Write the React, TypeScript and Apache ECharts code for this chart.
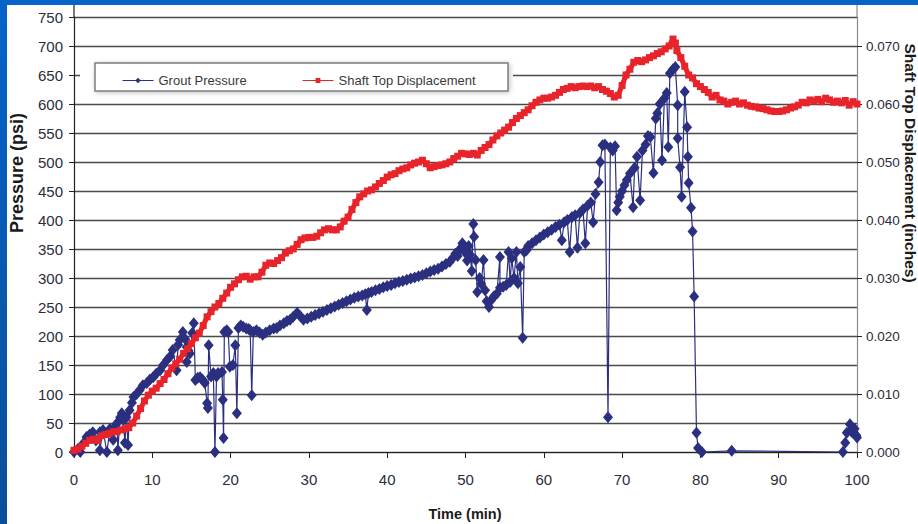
import React, { useEffect, useRef } from "react";
import * as echarts from "echarts";

const xTicks = [0, 10, 20, 30, 40, 50, 60, 70, 80, 90, 100];
const seriesNames = ["Grout Pressure", "Shaft Top Displacement"];

// Grout pressure [time (min), psi]
const groutPressure: [number, number][] = [
  [0, 0], [0.5, 5], [0.8, 0], [1.2, 15], [1.6, 26], [2, 30], [2.4, 34], [2.8, 20], [3.3, 34], [3.3, 3],
  [3.7, 38], [4.2, 0], [4.6, 40], [5, 21], [5.3, 45], [5.5, 50], [5.6, 3], [5.9, 60], [6.1, 67], [6.3, 55],
  [6.5, 16], [6.7, 60], [6.9, 12], [7.1, 72], [7.4, 85], [7.6, 95], [8, 100], [8.4, 107], [8.8, 115], [9.3, 119],
  [9.7, 125], [10.1, 129], [10.5, 135], [11, 141], [11.4, 150], [11.9, 159], [12.3, 165], [12.6, 176], [13.1, 141], [13.3, 185],
  [13.5, 193], [13.9, 207], [14.2, 195], [14.4, 181], [14.4, 155], [14.6, 175], [14.8, 170], [15.1, 205], [15.3, 222], [15.5, 124],
  [15.8, 128], [16.1, 129], [16.4, 125], [16.7, 119], [17, 84], [17.1, 76], [17.2, 184], [17.5, 130], [17.8, 136], [18, 0],
  [18.2, 130], [18.4, 136], [18.9, 138], [19, 90], [19.1, 24], [19.2, 207], [19.5, 210], [19.7, 207], [19.9, 147], [20.3, 150],
  [20.6, 184], [20.8, 67], [21, 214], [21.3, 218], [21.6, 216], [22, 213], [22.3, 212], [22.5, 210], [22.7, 98], [22.9, 207],
  [23.3, 210], [23.7, 206], [24.1, 202], [24.5, 206], [25, 210], [25.5, 213], [25.9, 214], [26.3, 218], [26.8, 222], [27.2, 226],
  [27.6, 228], [28, 233], [28.5, 240], [28.9, 234], [29.3, 228], [29.8, 230], [30.3, 233], [30.8, 236], [31.3, 239], [31.8, 242],
  [32.3, 245], [32.8, 248], [33.3, 251], [33.8, 254], [34.3, 257], [34.8, 260], [35.3, 263], [35.8, 266], [36.3, 268], [36.8, 270],
  [37.2, 272], [37.4, 245], [37.6, 274], [38, 276], [38.5, 279], [39, 281], [39.5, 284], [40, 286], [40.5, 288], [41, 291],
  [41.5, 293], [42, 295], [42.5, 297], [43, 299], [43.5, 301], [44, 303], [44.5, 305], [45, 308], [45.5, 311], [46, 314],
  [46.5, 316], [47, 320], [47.5, 324], [48, 328], [48.4, 335], [48.7, 342], [49, 338], [49.3, 350], [49.6, 360], [49.9, 345],
  [50.2, 330], [50.4, 355], [50.6, 340], [50.8, 312], [51, 393], [51.1, 371], [51.3, 331], [51.5, 276], [51.8, 300], [52, 290],
  [52.3, 331], [52.5, 279], [52.7, 260], [53, 250], [53.3, 262], [53.6, 268], [54, 273], [54.4, 336], [54.4, 283], [54.8, 285],
  [55.2, 288], [55.5, 345], [55.7, 293], [55.9, 334], [56.2, 300], [56.5, 345], [56.7, 291], [57, 319], [57.3, 197], [57.5, 345],
  [57.8, 348], [58, 355], [58.5, 360], [59, 365], [59.5, 370], [60, 375], [60.5, 379], [61, 383], [61.5, 388], [62, 392],
  [62.3, 365], [62.6, 396], [63, 400], [63.3, 345], [63.6, 405], [64, 408], [64.3, 352], [64.6, 412], [65, 418], [65.3, 360],
  [65.6, 425], [66, 430], [66.3, 396], [66.6, 445], [67, 465], [67.2, 500], [67.5, 529], [67.8, 530], [68.2, 60], [68.5, 525],
  [68.8, 520], [69.1, 527], [69.3, 417], [69.5, 430], [69.7, 440], [70, 450], [70.3, 460], [70.6, 469], [71, 480], [71.4, 422],
  [71.6, 490], [71.9, 509], [72.3, 434], [72.6, 520], [73, 530], [73.3, 545], [73.6, 543], [74, 481], [74.3, 575], [74.5, 584],
  [74.8, 600], [75.1, 503], [75.4, 610], [75.7, 619], [75.9, 526], [76.1, 653], [76.5, 660], [76.8, 664], [77.1, 598], [77.1, 541],
  [77.4, 491], [77.6, 440], [78, 621], [78.3, 560], [78.4, 509], [78.5, 464], [78.8, 421], [79, 380], [79.2, 268], [79.5, 33],
  [79.7, 7], [80.2, 0], [84, 2], [98.2, 0], [98.5, 16], [98.7, 33], [99.1, 48], [99.3, 35], [99.5, 33], [99.7, 40],
  [99.9, 29], [100, 25],
];

// Shaft top displacement [time (min), inches]
const shaftDisplacement: [number, number][] = [
  [0, 0.0003], [0.5, 0.0005], [1, 0.001], [1.5, 0.0015], [2, 0.002], [2.5, 0.0022], [3, 0.002], [3.5, 0.0028], [4, 0.003], [4.5, 0.0032],
  [5, 0.0035], [5.5, 0.0035], [6, 0.0038], [6.5, 0.004], [7, 0.0042], [7.5, 0.005], [8, 0.0062], [8.5, 0.0075], [9, 0.0088], [9.5, 0.0098],
  [10, 0.0105], [10.5, 0.011], [11, 0.0118], [11.5, 0.0125], [12, 0.0135], [12.5, 0.0145], [13, 0.0152], [13.5, 0.016], [14, 0.017], [14.5, 0.0178],
  [15, 0.0187], [15.5, 0.0197], [16, 0.0205], [16.5, 0.0218], [17, 0.0233], [17.5, 0.0242], [18, 0.025], [18.5, 0.0256], [19, 0.0265], [19.5, 0.0274],
  [20, 0.0284], [20.5, 0.029], [21, 0.0297], [21.5, 0.0302], [22, 0.0303], [22.5, 0.0298], [23, 0.0302], [23.5, 0.0302], [24, 0.031], [24.5, 0.0322],
  [25, 0.0326], [25.5, 0.0325], [26, 0.033], [26.5, 0.0335], [27, 0.0343], [27.5, 0.0347], [28, 0.035], [28.5, 0.0358], [29, 0.0366], [29.5, 0.0369],
  [30, 0.037], [30.5, 0.037], [31, 0.0372], [31.5, 0.0378], [32, 0.0383], [32.5, 0.0385], [33, 0.0383], [33.5, 0.0383], [34, 0.0388], [34.5, 0.0398],
  [35, 0.0405], [35.5, 0.0418], [36, 0.043], [36.5, 0.044], [37, 0.0445], [37.5, 0.045], [38, 0.0452], [38.5, 0.0457], [39, 0.0463], [39.5, 0.0468],
  [40, 0.0474], [40.5, 0.0478], [41, 0.048], [41.5, 0.0485], [42, 0.0488], [42.5, 0.049], [43, 0.0495], [43.5, 0.0498], [44, 0.05], [44.5, 0.0503],
  [45, 0.0497], [45.5, 0.049], [46, 0.0492], [46.5, 0.0494], [47, 0.0495], [47.5, 0.0497], [48, 0.05], [48.5, 0.0506], [49, 0.051], [49.5, 0.0515],
  [50, 0.0514], [50.5, 0.0513], [51, 0.0515], [51.5, 0.0512], [52, 0.052], [52.5, 0.0525], [53, 0.053], [53.5, 0.0538], [54, 0.0545], [54.5, 0.055],
  [55, 0.0555], [55.5, 0.056], [56, 0.0568], [56.5, 0.0575], [57, 0.058], [57.5, 0.0585], [58, 0.059], [58.5, 0.0597], [59, 0.0603], [59.5, 0.0607],
  [60, 0.061], [60.5, 0.061], [61, 0.0612], [61.5, 0.0615], [62, 0.062], [62.5, 0.0625], [63, 0.0627], [63.5, 0.063], [64, 0.0628], [64.5, 0.063],
  [65, 0.0631], [65.5, 0.063], [66, 0.0631], [66.5, 0.0628], [67, 0.063], [67.5, 0.0625], [68, 0.0622], [68.5, 0.0618], [69, 0.0612], [69.5, 0.0615],
  [70, 0.0632], [70.5, 0.065], [71, 0.066], [71.5, 0.0672], [72, 0.0675], [72.5, 0.0673], [73, 0.0676], [73.5, 0.068], [74, 0.0683], [74.5, 0.0687],
  [75, 0.069], [75.5, 0.0695], [76, 0.07], [76.5, 0.0712], [76.8, 0.0705], [77, 0.0692], [77.5, 0.068], [78, 0.0665], [78.5, 0.065], [79, 0.0645],
  [79.5, 0.0635], [80, 0.063], [80.5, 0.0625], [81, 0.062], [81.5, 0.0612], [82, 0.0615], [82.5, 0.0607], [83, 0.0605], [83.5, 0.06], [84, 0.0603],
  [84.5, 0.0605], [85, 0.06], [85.5, 0.0602], [86, 0.0598], [86.5, 0.0596], [87, 0.0595], [87.5, 0.0593], [88, 0.0592], [88.5, 0.059], [89, 0.0588],
  [89.5, 0.0587], [90, 0.0587], [90.5, 0.0588], [91, 0.059], [91.5, 0.0593], [92, 0.0595], [92.5, 0.0598], [93, 0.0603], [93.5, 0.0602], [94, 0.0607],
  [94.5, 0.0605], [95, 0.0608], [95.5, 0.0604], [96, 0.061], [96.5, 0.0607], [97, 0.0603], [97.5, 0.0605], [98, 0.0602], [98.5, 0.0606], [99, 0.0598],
  [99.5, 0.0604], [100, 0.06],
];

const NAVY = "#2b2f80";
const RED = "#e8242b";
const TICK_FONT = "'Liberation Sans Narrow', 'Arial Narrow', 'Liberation Sans', Arial, sans-serif";
const FONT = "'Liberation Sans', Arial, sans-serif";

export default function App() {
  const ref = useRef<HTMLDivElement>(null);
  useEffect(() => {
    if (!ref.current) return;
    const chart = echarts.init(ref.current, undefined, { renderer: "svg" });
    const gridColor = "#4a4a4a";
    const legendText = { fontFamily: FONT, fontSize: 13, color: "#3a3a3a" };
    chart.setOption({
      animation: false,
      backgroundColor: "#ffffff",
      grid: { left: 74, right: 61, top: 17, bottom: 72, containLabel: false },
      legend: [
        {
          data: [seriesNames[0]],
          left: 117,
          top: 69,
          itemWidth: 31,
          itemHeight: 7,
          itemGap: 0,
          lineStyle: { width: 1 },
          textStyle: legendText,
          z: 10,
        },
        {
          data: [seriesNames[1]],
          left: 297,
          top: 69,
          itemWidth: 31,
          itemHeight: 6,
          itemGap: 0,
          lineStyle: { width: 1 },
          textStyle: legendText,
          z: 10,
        },
      ],
      xAxis: {
        type: "value",
        min: xTicks[0],
        max: xTicks[xTicks.length - 1],
        interval: 10,
        axisLine: { show: true, lineStyle: { color: "#222", width: 1.2 } },
        axisTick: { show: true, length: 6, lineStyle: { color: "#222" } },
        splitLine: { show: false },
        axisLabel: { margin: 20, fontFamily: TICK_FONT, fontSize: 15, color: "#2b2d3a" },
      },
      yAxis: [
        {
          type: "value",
          min: 0,
          max: 750,
          interval: 50,
          axisLine: { show: true, lineStyle: { color: "#222", width: 1.2 } },
          axisTick: { show: true, length: 5, lineStyle: { color: "#222" } },
          splitLine: { show: true, lineStyle: { color: gridColor, width: 1.3 } },
          axisLabel: { margin: 11, fontFamily: TICK_FONT, fontSize: 15, color: "#2b2d3a" },
        },
        {
          type: "value",
          min: 0,
          max: 0.075,
          interval: 0.01,
          position: "right",
          axisLine: { show: true, lineStyle: { color: "#8a8a8a", width: 1.2 } },
          axisTick: { show: true, length: 5, lineStyle: { color: "#222" } },
          splitLine: { show: false },
          axisLabel: {
            margin: 9,
            showMaxLabel: false,
            fontFamily: TICK_FONT,
            fontSize: 13.5,
            color: "#2b2d3a",
            formatter: (v: number) => (v > 0.0705 ? "" : v.toFixed(3)),
          },
        },
      ],
      graphic: [
        // legend backing + box
        { type: "rect", z: 5, shape: { x: 80, y: 57, width: 433, height: 39 }, style: { fill: "#ffffff" } },
        {
          type: "rect",
          z: 6,
          shape: { x: 95, y: 63, width: 413, height: 28 },
          style: { fill: "#ffffff", stroke: "#7d7d7d", lineWidth: 1.5, shadowBlur: 5, shadowColor: "rgba(0,0,0,0.25)", shadowOffsetX: 1, shadowOffsetY: 1 },
        },
        // axis line extensions above the plot
        { type: "line", z: 5, shape: { x1: 74, y1: 4, x2: 74, y2: 17 }, style: { stroke: "#222", lineWidth: 1.2 } },
        { type: "line", z: 5, shape: { x1: 857, y1: 4, x2: 857, y2: 17 }, style: { stroke: "#8a8a8a", lineWidth: 1.2 } },
        // axis titles
        {
          type: "text",
          z: 10,
          x: 17,
          y: 173,
          rotation: Math.PI / 2,
          style: { text: "Pressure (psi)", fontFamily: FONT, fontWeight: "bold", fontSize: 18, fill: "#1a1a1a", align: "center", verticalAlign: "middle" },
        },
        {
          type: "text",
          z: 10,
          x: 910,
          y: 163,
          rotation: -Math.PI / 2,
          style: { text: "Shaft Top Displacement (inches)", fontFamily: FONT, fontWeight: "bold", fontSize: 15.5, fill: "#1a1a1a", align: "center", verticalAlign: "middle" },
        },
        {
          type: "text",
          z: 10,
          x: 465,
          y: 514,
          style: { text: "Time (min)", fontFamily: FONT, fontWeight: "bold", fontSize: 14.5, fill: "#1a1a1a", align: "center", verticalAlign: "middle" },
        },
        // slide border (blue)
        {
          type: "rect",
          z: 20,
          shape: { x: 0, y: 0, width: 918, height: 5 },
          style: { fill: "#0563c9" },
        },
        {
          type: "rect",
          z: 20,
          shape: { x: 0, y: 0, width: 7, height: 524 },
          style: {
            fill: new echarts.graphic.LinearGradient(0, 0, 0, 1, [
              { offset: 0, color: "#0563c9" },
              { offset: 1, color: "#0b4f9a" },
            ]),
          },
        },
      ],
      series: [
        {
          name: seriesNames[0],
          type: "line",
          yAxisIndex: 0,
          data: groutPressure,
          symbol: "diamond",
          symbolSize: [10, 12],
          showSymbol: true,
          showAllSymbol: true,
          itemStyle: { color: NAVY },
          lineStyle: { color: NAVY, width: 1.2 },
          z: 2,
        },
        {
          name: seriesNames[1],
          type: "line",
          yAxisIndex: 1,
          data: shaftDisplacement,
          symbol: "rect",
          symbolSize: 7,
          showSymbol: true,
          showAllSymbol: true,
          itemStyle: { color: RED },
          lineStyle: { color: RED, width: 5 },
          z: 3,
        },
      ],
    });
    return () => chart.dispose();
  }, []);
  return (
    <div
      ref={ref}
      style={{ position: "fixed", left: 0, top: 0, width: 918, height: 524, background: "#fff" }}
    />
  );
}
